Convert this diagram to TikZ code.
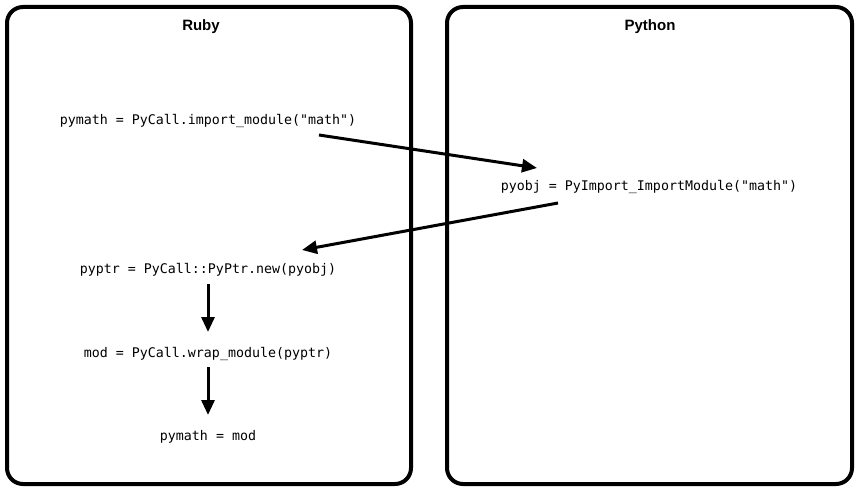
\documentclass[tikz,border=0pt]{standalone}
\usepackage{fontspec}
\setmainfont{Liberation Sans}
\setmonofont{DejaVu Sans Mono}
\usetikzlibrary{arrows.meta,positioning}

\begin{document}
\begin{tikzpicture}[x=1pt, y=1pt,
    lang/.style={rectangle, draw=black, line width=4pt, rounded corners=16pt},
    title/.style={font=\fontsize{15}{18}\selectfont\bfseries},
    code/.style={inner sep=0pt, font=\fontsize{13.3}{16}\selectfont\ttfamily},
    arrow/.style={-{Triangle[length=15pt, width=13pt]}, line width=3pt}
  ]
    \useasboundingbox (0,0) rectangle (859,491);
    \draw[lang] (7,7) rectangle (411,484);
    \draw[lang] (447,7) rectangle (852,484);
    \node[title] (ruby) at (201,464) {Ruby};
    \node[title] (python) at (650,464) {Python};

    \node[code] (imp) at (208,370) {pymath = PyCall.import\_module("math")};
    \node[code] (obj) at (649,304) {pyobj = PyImport\_ImportModule("math")};
    \node[code] (ptr) at (208,221) {pyptr = PyCall::PyPtr.new(pyobj)};
    \node[code, below=84pt of ptr.center, anchor=center] (mod) {mod = PyCall.wrap\_module(pyptr)};
    \node[code, below=83pt of mod.center, anchor=center] (res) {pymath = mod};

    \draw[arrow] ([shift={(111,-14)}]imp.center) -- ([shift={(-112,19)}]obj.center);
    \draw[arrow] ([shift={(-91,-16)}]obj.center) -- ([shift={(94,20)}]ptr.center);
    \draw[arrow] ([yshift=-14pt]ptr.center) -- ([yshift=22pt]mod.center);
    \draw[arrow] ([yshift=-13pt]mod.center) -- ([yshift=22pt]res.center);
  \end{tikzpicture}
\end{document}
